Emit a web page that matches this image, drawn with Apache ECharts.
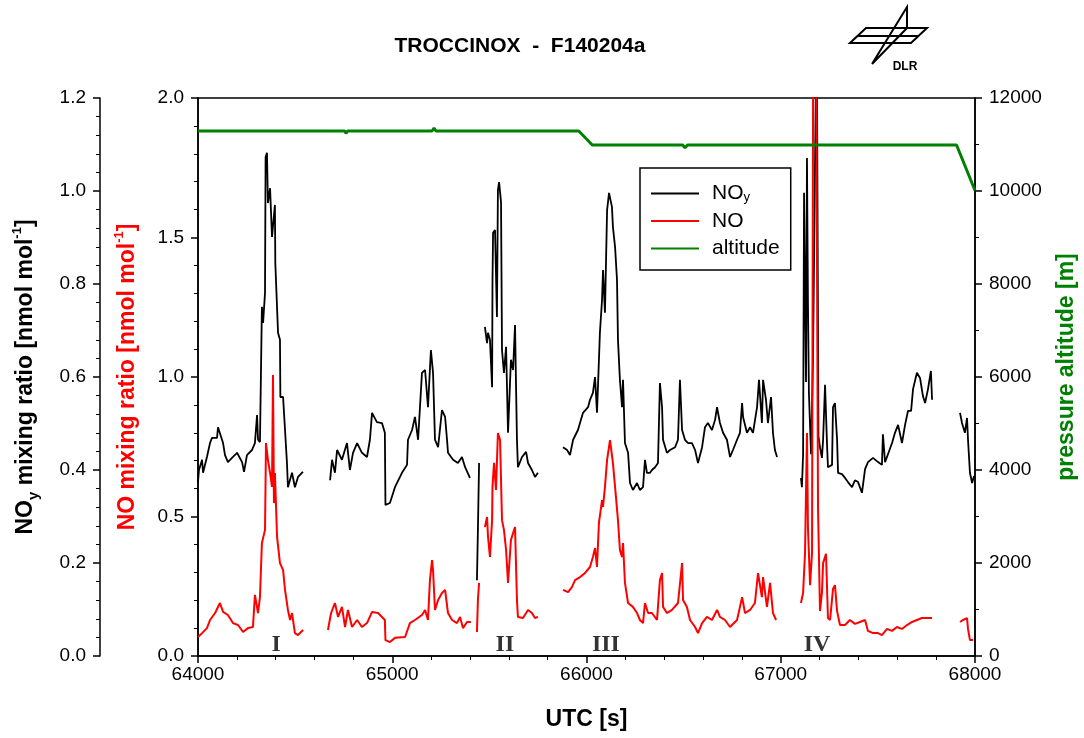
<!DOCTYPE html>
<html>
<head>
<meta charset="utf-8">
<script src="https://cdn.jsdelivr.net/npm/echarts@6/dist/echarts.min.js"></script>
<style>
  html, body { margin: 0; padding: 0; background: #fff; }
  #main { width: 1084px; height: 738px; }
</style>
</head>
<body>
<div id="main"></div>
<script>
// UTC [s] / mixing ratio [nmol mol-1] pairs, null = data gap
const noyData = [
  [64000,0.374],[64005,0.400],[64021,0.422],[64026,0.394],[64046,0.428],[64062,0.458],[64072,0.469],[64098,0.469],
  [64103,0.492],[64113,0.492],[64129,0.458],[64139,0.432],[64154,0.417],[64175,0.426],[64201,0.437],[64206,0.439],
  [64227,0.417],[64237,0.396],[64252,0.432],[64278,0.443],[64293,0.458],[64304,0.518],[64309,0.465],[64319,0.460],
  [64329,0.751],[64335,0.716],[64345,0.781],[64348,1.073],[64355,1.082],[64360,0.974],[64371,1.006],[64381,0.901],
  [64396,0.970],[64398,0.845],[64412,0.695],[64422,0.680],[64424,0.557],[64438,0.557],[64448,0.486],[64458,0.415],
  [64463,0.363],[64484,0.394],[64499,0.363],[64515,0.385],[64535,0.394],[64541,0.396],
  null,
  [64680,0.378],[64690,0.422],[64705,0.394],[64716,0.443],[64741,0.422],[64767,0.458],[64782,0.400],[64798,0.437],
  [64819,0.458],[64844,0.437],[64870,0.428],[64885,0.465],[64896,0.523],[64921,0.503],[64947,0.501],[64962,0.480],
  [64965,0.325],[64988,0.329],[65014,0.363],[65050,0.394],[65076,0.411],[65081,0.465],[65102,0.486],[65117,0.514],
  [65133,0.465],[65153,0.609],[65169,0.615],[65184,0.535],[65199,0.658],[65210,0.609],[65220,0.465],[65236,0.449],
  [65256,0.529],[65272,0.514],[65282,0.465],[65287,0.437],[65313,0.422],[65338,0.415],[65359,0.428],[65375,0.406],
  [65400,0.383],
  null,
  [65436,0.163],[65441,0.271],[65447,0.415],
  null,
  [65477,0.708],[65488,0.673],[65493,0.695],[65503,0.680],[65514,0.578],[65516,0.802],[65519,0.910],[65529,0.916],
  [65539,0.729],[65544,1.002],[65550,1.019],[65560,0.976],[65565,0.658],[65575,0.609],[65586,0.665],[65596,0.480],
  [65606,0.480],[65611,0.637],[65622,0.615],[65632,0.712],[65642,0.465],[65647,0.406],[65668,0.428],[65689,0.439],
  [65699,0.415],[65719,0.400],[65735,0.385],[65750,0.394],
  null,
  [65879,0.449],[65900,0.443],[65915,0.432],[65931,0.465],[65956,0.486],[65982,0.523],[66008,0.535],[66018,0.551],
  [66033,0.566],[66044,0.600],[66054,0.523],[66059,0.578],[66069,0.695],[66080,0.766],[66085,0.830],[66095,0.738],
  [66106,0.959],[66116,0.996],[66131,0.966],[66136,0.923],[66147,0.880],[66157,0.809],[66162,0.680],[66172,0.594],
  [66183,0.535],[66188,0.594],[66198,0.458],[66214,0.437],[66224,0.372],[66239,0.357],[66260,0.372],[66275,0.357],
  [66291,0.363],[66301,0.422],[66311,0.394],[66327,0.394],[66337,0.400],[66353,0.406],[66368,0.415],[66378,0.587],
  [66389,0.535],[66394,0.465],[66414,0.437],[66430,0.443],[66456,0.449],[66471,0.465],[66481,0.594],[66492,0.486],
  [66507,0.465],[66523,0.458],[66543,0.458],[66559,0.443],[66574,0.415],[66595,0.449],[66610,0.492],[66625,0.501],
  [66646,0.486],[66662,0.508],[66672,0.535],[66687,0.501],[66703,0.480],[66723,0.465],[66739,0.428],[66754,0.443],
  [66775,0.465],[66790,0.480],[66801,0.544],[66806,0.514],[66826,0.480],[66842,0.492],[66857,0.480],[66878,0.535],
  [66888,0.594],[66903,0.501],[66909,0.594],[66924,0.551],[66934,0.501],[66950,0.557],[66960,0.480],[66970,0.443],
  [66981,0.428],
  null,
  [67104,0.383],[67109,0.363],[67115,0.434],[67120,0.996],[67130,0.589],[67135,1.071],[67140,0.761],[67145,0.566],
  [67156,0.434],[67166,0.637],[67185,1.40],[67191,1.40],[67194,0.473],[67202,0.449],[67212,0.426],[67218,0.465],
  [67228,0.583],[67238,0.458],[67243,0.406],[67264,0.411],[67269,0.535],[67279,0.544],[67290,0.465],[67295,0.394],
  [67315,0.391],[67331,0.383],[67346,0.374],[67367,0.363],[67382,0.378],[67398,0.374],[67418,0.351],[67434,0.402],
  [67449,0.417],[67475,0.426],[67501,0.417],[67521,0.411],[67526,0.477],[67537,0.417],[67552,0.434],[67573,0.458],
  [67588,0.480],[67604,0.497],[67624,0.458],[67640,0.497],[67655,0.527],[67671,0.527],[67681,0.574],[67701,0.609],
  [67717,0.598],[67732,0.559],[67743,0.544],[67758,0.574],[67773,0.613],[67779,0.551],
  null,
  [67923,0.523],[67933,0.501],[67948,0.480],[67959,0.512],[67964,0.465],[67974,0.394],[67985,0.372],[67995,0.387]
];

const noData = [
  [64000,0.068],[64021,0.082],[64046,0.100],[64062,0.129],[64088,0.154],[64113,0.190],[64129,0.158],[64154,0.147],
  [64180,0.118],[64206,0.111],[64232,0.086],[64257,0.100],[64283,0.104],[64293,0.219],[64309,0.154],[64319,0.211],
  [64329,0.405],[64345,0.452],[64350,0.763],[64360,0.703],[64371,0.656],[64381,0.606],[64386,1.007],[64391,0.548],
  [64396,0.656],[64407,0.427],[64422,0.333],[64438,0.308],[64448,0.237],[64463,0.165],[64474,0.129],[64484,0.154],
  [64499,0.082],[64515,0.075],[64541,0.093],
  null,
  [64669,0.093],[64685,0.154],[64705,0.190],[64721,0.140],[64741,0.176],[64757,0.104],[64772,0.165],[64793,0.104],
  [64819,0.129],[64844,0.104],[64870,0.118],[64896,0.158],[64927,0.154],[64962,0.129],[64965,0.057],[64988,0.050],
  [65014,0.065],[65066,0.068],[65091,0.118],[65117,0.129],[65153,0.147],[65169,0.165],[65184,0.129],[65194,0.272],
  [65205,0.344],[65210,0.308],[65220,0.165],[65236,0.201],[65256,0.226],[65272,0.237],[65287,0.154],[65308,0.129],
  [65333,0.118],[65349,0.140],[65364,0.100],[65385,0.122],[65405,0.122],
  null,
  [65436,0.086],[65441,0.201],[65447,0.262],
  null,
  [65477,0.462],[65488,0.498],[65493,0.427],[65503,0.355],[65514,0.487],[65516,0.606],[65524,0.692],[65534,0.595],
  [65544,0.799],[65555,0.774],[65565,0.487],[65575,0.452],[65586,0.380],[65596,0.262],[65606,0.262],[65611,0.416],
  [65622,0.441],[65632,0.462],[65642,0.201],[65647,0.140],[65673,0.136],[65699,0.165],[65719,0.154],[65735,0.136],
  [65750,0.140],
  null,
  [65879,0.237],[65905,0.229],[65925,0.247],[65941,0.272],[65967,0.283],[65992,0.297],[66018,0.319],[66033,0.355],
  [66044,0.387],[66054,0.319],[66064,0.477],[66080,0.559],[66085,0.534],[66095,0.606],[66106,0.703],[66121,0.774],
  [66136,0.692],[66147,0.606],[66162,0.487],[66172,0.380],[66183,0.355],[66188,0.405],[66198,0.262],[66214,0.190],
  [66239,0.176],[66260,0.154],[66275,0.129],[66291,0.118],[66301,0.190],[66317,0.154],[66337,0.154],[66363,0.129],
  [66378,0.272],[66389,0.297],[66394,0.176],[66414,0.154],[66440,0.165],[66471,0.190],[66492,0.333],[66497,0.201],
  [66517,0.176],[66533,0.129],[66559,0.104],[66574,0.082],[66595,0.118],[66620,0.140],[66646,0.129],[66672,0.165],
  [66687,0.140],[66713,0.129],[66739,0.104],[66775,0.129],[66790,0.176],[66801,0.211],[66816,0.154],[66842,0.165],
  [66867,0.190],[66883,0.297],[66903,0.211],[66909,0.283],[66929,0.176],[66945,0.262],[66960,0.154],[66976,0.129],
  null,
  [67104,0.190],[67115,0.226],[67125,0.369],[67135,0.799],[67140,0.462],[67151,0.254],[67161,0.369],[67168,2.5],
  [67180,2.5],[67192,0.527],[67202,0.161],[67212,0.226],[67218,0.333],[67233,0.366],[67243,0.136],[67254,0.129],
  [67269,0.240],[67279,0.254],[67290,0.161],[67305,0.111],[67331,0.111],[67356,0.129],[67382,0.115],[67408,0.122],
  [67434,0.129],[67449,0.090],[67475,0.082],[67501,0.082],[67521,0.075],[67547,0.097],[67573,0.090],[67598,0.104],
  [67624,0.097],[67650,0.111],[67676,0.122],[67701,0.129],[67727,0.136],[67753,0.136],[67779,0.136],
  null,
  [67923,0.122],[67938,0.129],[67959,0.136],[67964,0.097],[67974,0.057],[67990,0.057]
];

const altitudeTime  = [64000, 64755, 64762, 64770, 65205, 65215, 65225, 65960, 66030, 66495, 66507, 66520, 67905, 68000];
const altitudeValue = [11290, 11290, 11240, 11290, 11290, 11350, 11290, 11290, 10990, 10990, 10930, 10990, 10990, 10010];

// encounter labels
const eventNames = ['I', 'II', 'III', 'IV'];
const eventTimes = [64402, 65580, 66100, 67187];
const eventLevel = 0.04;

const FONT = "'Liberation Sans', Arial, sans-serif";

// null gap -> '-' so the line breaks
const withGaps = (rows) => rows.map((r, i) => r ? r : [rows[i - 1][0] + 1, '-']);

const chart = echarts.init(document.getElementById('main'), null, { renderer: 'canvas' });

const axisBase = (minorN) => ({
  axisLine: { show: true, lineStyle: { color: '#000', width: 1.5 } },
  axisTick: { show: true, inside: false, length: 7, lineStyle: { color: '#000', width: 1.5 } },
  minorTick: { show: true, splitNumber: minorN, length: 4, lineStyle: { color: '#000', width: 1 } },
  splitLine: { show: false },
  minorSplitLine: { show: false }
});

const option = {
  animation: false,
  backgroundColor: '#fff',
  textStyle: { fontFamily: FONT },
  grid: {
    left: 198, right: 109, top: 98, bottom: 82,
    outerBoundsMode: 'none', containLabel: false,
    show: true, borderColor: '#000', borderWidth: 1.5, backgroundColor: 'transparent'
  },
  graphic: [
    { type: 'text', x: 520, y: 46, style: { text: 'TROCCINOX  -  F140204a', fontFamily: FONT, fontSize: 21, fontWeight: 'bold', fill: '#000', align: 'center', verticalAlign: 'middle' } },
    { type: 'polygon', shape: { points: [[850, 43], [866, 28], [927, 28], [911, 43]] }, style: { fill: 'none', stroke: '#000', lineWidth: 2 } },
    { type: 'polyline', shape: { points: [[858, 36], [919, 36]] }, style: { fill: 'none', stroke: '#000', lineWidth: 2 } },
    { type: 'polyline', shape: { points: [[872, 64], [907, 7], [907, 28], [872, 64]] }, style: { fill: 'none', stroke: '#000', lineWidth: 2 } },
    { type: 'text', x: 905, y: 67, style: { text: 'DLR', fontFamily: FONT, fontSize: 12, fontWeight: 'bold', fill: '#000', align: 'center', verticalAlign: 'middle' } }
  ],
  legend: {
    data: [
      { name: 'NOy', icon: 'rect' },
      { name: 'NO', icon: 'rect' },
      { name: 'altitude', icon: 'rect' }
    ],
    orient: 'vertical',
    left: 640, top: 168,
    itemWidth: 48, itemHeight: 2, itemGap: 6.5,
    padding: [15, 11, 11, 11],
    borderColor: '#000', borderWidth: 1.5,
    formatter: (n) => n === 'NOy' ? '{b|NO}{s|y}' : '{b|' + n + '}',
    textStyle: {
      color: '#000', fontSize: 21, padding: [0, 0, 0, 8],
      rich: {
        b: { fontSize: 21, fontFamily: FONT, color: '#000', lineHeight: 21, verticalAlign: 'middle' },
        s: { fontSize: 13, fontFamily: FONT, color: '#000', lineHeight: 8, verticalAlign: 'bottom' }
      }
    }
  },
  xAxis: Object.assign(axisBase(5), {
    type: 'value', min: 64000, max: 68000, interval: 1000, position: 'bottom',
    axisLabel: { fontSize: 19, color: '#000', margin: 9, fontFamily: FONT, formatter: (v) => String(v) },
    name: 'UTC [s]', nameLocation: 'middle', nameGap: 52,
    nameTextStyle: { fontSize: 23, fontWeight: 'bold', color: '#000', fontFamily: FONT }
  }),
  yAxis: [
    Object.assign(axisBase(5), {
      type: 'value', position: 'left', offset: 98, min: 0, max: 1.2, interval: 0.2,
      axisLabel: { fontSize: 19, color: '#000', margin: 14, fontFamily: FONT, formatter: (v) => v.toFixed(1) },
      name: '{b|NO}{s|y}{b| mixing ratio [nmol mol}{p|-1}{b|]}', nameLocation: 'middle', nameRotate: 90, nameGap: 59,
      nameTextStyle: {
        color: '#000',
        rich: {
          b: { fontSize: 23, fontWeight: 'bold', color: '#000', fontFamily: FONT, lineHeight: 30, verticalAlign: 'middle' },
          s: { fontSize: 15, fontWeight: 'bold', color: '#000', fontFamily: FONT, lineHeight: 30, verticalAlign: 'bottom' },
          p: { fontSize: 13, fontWeight: 'bold', color: '#000', fontFamily: FONT, lineHeight: 30, verticalAlign: 'top' }
        }
      }
    }),
    Object.assign(axisBase(5), {
      type: 'value', position: 'left', offset: 0, min: 0, max: 2, interval: 0.5,
      axisLabel: { fontSize: 19, color: '#000', margin: 14, fontFamily: FONT, formatter: (v) => v.toFixed(1) },
      name: '{b|NO mixing ratio [nmol mol}{p|-1}{b|]}', nameLocation: 'middle', nameRotate: 90, nameGap: 55,
      nameTextStyle: {
        color: '#ff0000',
        rich: {
          b: { fontSize: 23, fontWeight: 'bold', color: '#ff0000', fontFamily: FONT, lineHeight: 30, verticalAlign: 'middle' },
          p: { fontSize: 13, fontWeight: 'bold', color: '#ff0000', fontFamily: FONT, lineHeight: 30, verticalAlign: 'top' }
        }
      }
    }),
    Object.assign(axisBase(2), {
      type: 'value', position: 'right', offset: 0, min: 0, max: 12000, interval: 2000,
      axisLabel: { fontSize: 19, color: '#000', margin: 14, fontFamily: FONT, formatter: (v) => String(v) },
      name: 'pressure altitude [m]', nameLocation: 'middle', nameRotate: 90, nameGap: 80,
      nameTextStyle: { fontSize: 23, fontWeight: 'bold', color: '#008000', fontFamily: FONT, padding: [0, 0, 0, 20] }
    })
  ],
  series: [
    {
      name: 'NOy', type: 'line', yAxisIndex: 0, symbol: 'none', showSymbol: false, connectNulls: false, clip: true,
      data: withGaps(noyData),
      lineStyle: { color: '#000', width: 1.8 }, itemStyle: { color: '#000' }, z: 2
    },
    {
      name: 'NO', type: 'line', yAxisIndex: 1, symbol: 'none', showSymbol: false, connectNulls: false, clip: true,
      data: withGaps(noData),
      lineStyle: { color: '#ff0000', width: 2 }, itemStyle: { color: '#ff0000' }, z: 3
    },
    {
      name: 'altitude', type: 'line', yAxisIndex: 2, symbol: 'none', showSymbol: false, clip: true,
      data: altitudeTime.map((t, i) => [t, altitudeValue[i]]),
      lineStyle: { color: '#008000', width: 3 }, itemStyle: { color: '#008000' }, z: 4
    },
    {
      name: 'events', type: 'scatter', yAxisIndex: 1, symbolSize: 1, silent: true,
      itemStyle: { color: 'rgba(0,0,0,0)' },
      data: eventNames.map((n, i) => ({ name: n, value: [eventTimes[i], eventLevel] })),
      label: {
        show: true, position: 'inside', formatter: (p) => p.name,
        fontFamily: "'Liberation Serif', 'Times New Roman', serif", fontSize: 24, fontWeight: 'bold', color: '#000'
      },
      z: 5
    }
  ]
};

chart.setOption(option);
</script>
</body>
</html>
